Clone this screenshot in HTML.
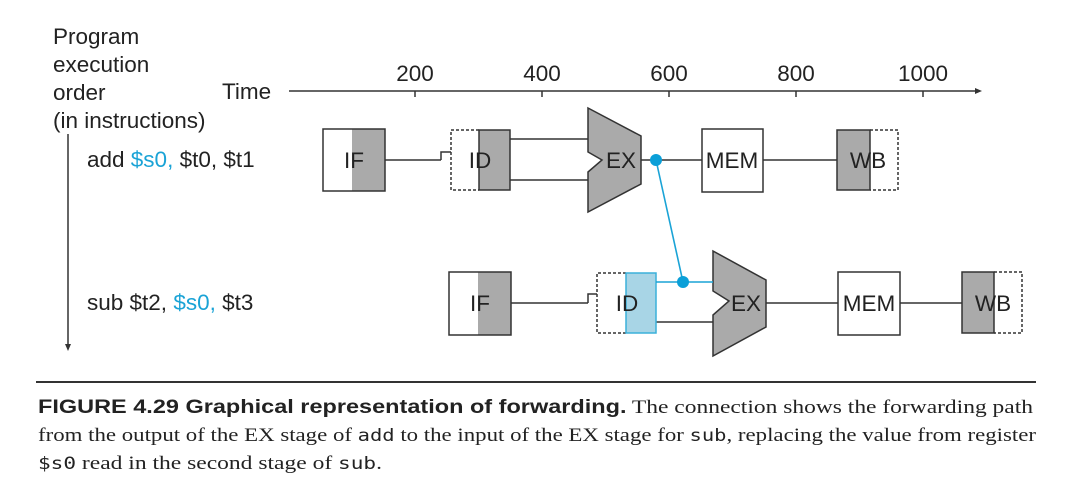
<!DOCTYPE html>
<html><head><meta charset="utf-8"><style>
html,body{margin:0;padding:0;background:#fff;width:1080px;height:492px;overflow:hidden}
svg text{font-family:"Liberation Sans",sans-serif}
.s{font-family:"Liberation Serif",serif}
.m{font-family:"DejaVu Sans Mono","Liberation Mono",monospace}
</style></head><body>
<svg width="1080" height="492" viewBox="0 0 1080 492" xmlns="http://www.w3.org/2000/svg">
<g font-size="22.5" fill="#222">
<text x="53" y="44">Program</text>
<text x="53" y="72">execution</text>
<text x="53" y="100">order</text>
<text x="53" y="128">(in instructions)</text>
<text x="222" y="99">Time</text>
<text x="87" y="167">add <tspan fill="#1aa3d6">$s0,</tspan> $t0, $t1</text>
<text x="87" y="310">sub $t2, <tspan fill="#1aa3d6">$s0,</tspan> $t3</text>
<text x="415" y="81" text-anchor="middle">200</text>
<text x="542" y="81" text-anchor="middle">400</text>
<text x="669" y="81" text-anchor="middle">600</text>
<text x="796" y="81" text-anchor="middle">800</text>
<text x="923" y="81" text-anchor="middle">1000</text>
</g>
<g stroke="#333" stroke-width="1.5" fill="none">
<line x1="289" y1="91" x2="975" y2="91"/>
<line x1="415" y1="91" x2="415" y2="97"/><line x1="542" y1="91" x2="542" y2="97"/>
<line x1="669" y1="91" x2="669" y2="97"/><line x1="796" y1="91" x2="796" y2="97"/>
<line x1="923" y1="91" x2="923" y2="97"/>
<line x1="68" y1="134" x2="68" y2="345"/>
</g>
<polygon points="975,88 982,91 975,94" fill="#333"/>
<polygon points="65,344 68,351 71,344" fill="#333"/>
<!-- row 1 -->
<g stroke="#333" stroke-width="1.5">
<line x1="385" y1="160" x2="441" y2="160"/>
<polyline points="441,160 441,152 451,152" fill="none"/>
<line x1="510" y1="139" x2="588" y2="139"/>
<line x1="510" y1="180" x2="588" y2="180"/>
<line x1="641" y1="160" x2="702" y2="160"/>
<line x1="763" y1="160" x2="837" y2="160"/>
<rect x="352" y="129" width="33" height="62" fill="#aaa" stroke="none"/>
<rect x="323" y="129" width="62" height="62" fill="none"/>
<rect x="479" y="130" width="31" height="60" fill="#aaa"/>
<polyline points="479,130 451,130 451,190 479,190" fill="none" stroke-dasharray="3,2"/>
<polygon points="588,108 641,136 641,184 588,212 588,172 602,160 588,152" fill="#aaa"/>
<rect x="702" y="129" width="61" height="63" fill="#fff"/>
<rect x="837" y="130" width="33" height="60" fill="#aaa"/>
<polyline points="870,130 898,130 898,190 870,190" fill="none" stroke-dasharray="3,2"/>
</g>
<!-- row 2 -->
<g stroke="#333" stroke-width="1.5">
<line x1="511" y1="303" x2="588" y2="303"/>
<polyline points="588,303 588,294 597,294" fill="none"/>
<line x1="656" y1="322" x2="713" y2="322"/>
<line x1="766" y1="303" x2="838" y2="303"/>
<line x1="900" y1="303" x2="962" y2="303"/>
<rect x="478" y="272" width="33" height="63" fill="#aaa" stroke="none"/>
<rect x="449" y="272" width="62" height="63" fill="none"/>
<polyline points="626,273 597,273 597,333 626,333" fill="none" stroke-dasharray="3,2"/>
<rect x="626" y="273" width="30" height="60" fill="#a8d5e6" stroke="#3ab0da"/>
<polygon points="713,251 766,280 766,327 713,356 713,315 729,301 713,291" fill="#aaa"/>
<rect x="838" y="272" width="62" height="63" fill="#fff"/>
<rect x="962" y="272" width="32" height="61" fill="#aaa"/>
<polyline points="994,272 1022,272 1022,333 994,333" fill="none" stroke-dasharray="3,2"/>
</g>
<g stroke="#1aa3d6" stroke-width="1.6">
<line x1="656" y1="282" x2="713" y2="282"/>
<line x1="656" y1="160" x2="683" y2="282"/>
</g>
<circle cx="656" cy="160" r="6" fill="#0a9fd8"/>
<circle cx="683" cy="282" r="6" fill="#0a9fd8"/>
<g font-size="22.5" fill="#222" text-anchor="middle">
<text x="354" y="168">IF</text><text x="480" y="168">ID</text><text x="621" y="168">EX</text>
<text x="732" y="168">MEM</text><text x="868" y="168">WB</text>
<text x="480" y="311">IF</text><text x="627" y="311">ID</text><text x="746" y="311">EX</text>
<text x="869" y="311">MEM</text><text x="993" y="311">WB</text>
</g>
<line x1="36" y1="382" x2="1036" y2="382" stroke="#333" stroke-width="2"/>
<g font-size="19" fill="#222">
<text x="38" y="413" class="s" textLength="995" lengthAdjust="spacingAndGlyphs"><tspan font-family="Liberation Sans" font-weight="bold">FIGURE 4.29    Graphical representation of forwarding.</tspan> The connection shows the forwarding path</text>
<text x="38" y="441" class="s" textLength="998" lengthAdjust="spacingAndGlyphs">from the output of the EX stage of <tspan class="m" font-size="17">add</tspan> to the input of the EX stage for <tspan class="m" font-size="17">sub</tspan>, replacing the value from register</text>
<text x="38" y="469" class="s" textLength="344" lengthAdjust="spacingAndGlyphs"><tspan class="m" font-size="17">$s0</tspan> read in the second stage of <tspan class="m" font-size="17">sub</tspan>.</text>
</g>
</svg>
</body></html>
